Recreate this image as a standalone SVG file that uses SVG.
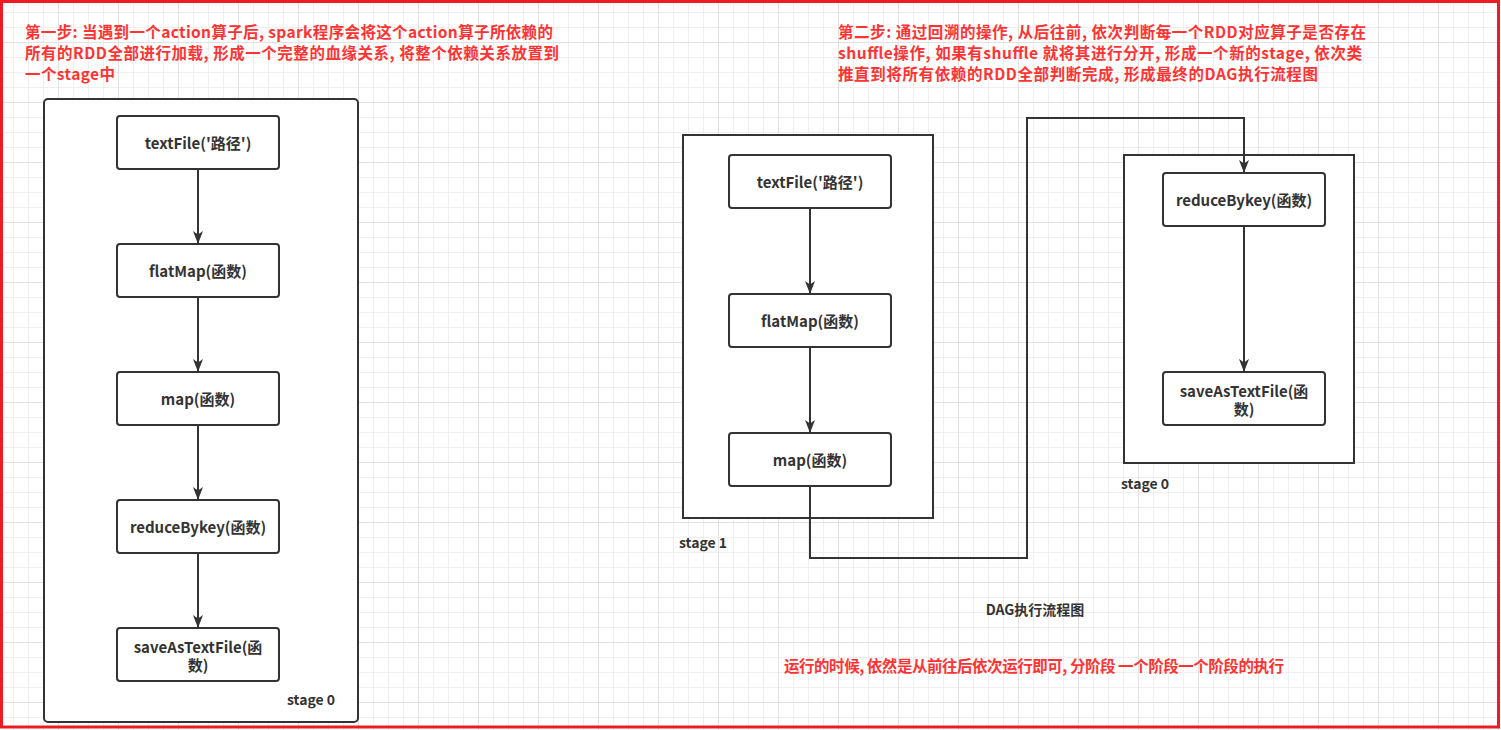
<svg xmlns="http://www.w3.org/2000/svg" width="1501" height="730" viewBox="0 0 1501 730">
<defs>
<pattern id="grid" x="-2" y="42" width="60" height="60" patternUnits="userSpaceOnUse">
<rect width="60" height="60" fill="#ffffff"/>
<path d="M15.5 0V60M30.5 0V60M45.5 0V60M0 15.5H60M0 30.5H60M0 45.5H60" stroke="#efefef" stroke-width="1"/>
<path d="M0.5 0V60M0 0.5H60" stroke="#e2e2e2" stroke-width="1"/>
</pattern>
<marker id="arr" markerUnits="userSpaceOnUse" markerWidth="15" markerHeight="11" refX="13" refY="5" orient="auto">
<path d="M0,0 L13,5 L0,10 L3.5,5 Z" fill="#333333"/>
</marker>
<style>
.box{fill:#ffffff;stroke:#333333;stroke-width:2}
.node{fill:#ffffff;stroke:#333333;stroke-width:2}
.lbl{font-family:"Noto Sans CJK SC","Noto Sans",sans-serif;font-weight:bold;font-size:14px;fill:#333333}
.n{font-size:15px}
.c{text-anchor:middle;dominant-baseline:central}
.red{font-family:"Noto Sans CJK SC","Noto Sans",sans-serif;font-weight:bold;font-size:15.5px;fill:#ff3333;dominant-baseline:central}
.edge{fill:none;stroke:#333333;stroke-width:2}
</style>
</defs>
<rect x="0" y="0" width="1501" height="730" fill="url(#grid)"/>
<rect x="1.5" y="1.5" width="1497" height="725.5" fill="none" stroke="#ed1c24" stroke-width="3"/>

<g id="note-step1">
<text class="red" x="25" y="31" textLength="528" lengthAdjust="spacing">第一步: 当遇到一个action算子后, spark程序会将这个action算子所依赖的</text>
<text class="red" x="25" y="52" textLength="534" lengthAdjust="spacing">所有的RDD全部进行加载, 形成一个完整的血缘关系, 将整个依赖关系放置到</text>
<text class="red" x="25" y="73" textLength="90" lengthAdjust="spacing">一个stage中</text>
</g>
<g id="note-step2">
<text class="red" x="838" y="31" textLength="528" lengthAdjust="spacing">第二步: 通过回溯的操作, 从后往前, 依次判断每一个RDD对应算子是否存在</text>
<text class="red" x="838" y="52" textLength="524" lengthAdjust="spacing">shuffle操作, 如果有shuffle 就将其进行分开, 形成一个新的stage, 依次类</text>
<text class="red" x="838" y="73" textLength="480" lengthAdjust="spacing">推直到将所有依赖的RDD全部判断完成, 形成最终的DAG执行流程图</text>
</g>

<g id="stage0-left">
<rect class="box" x="44" y="99" width="314" height="623" rx="4"/>
<text class="lbl" x="287" y="699" dominant-baseline="central">stage 0</text>
</g>
<g id="stage1">
<rect class="box" x="683" y="135" width="250" height="383"/>
<text class="lbl" x="679" y="542" dominant-baseline="central">stage 1</text>
</g>
<g id="stage0-right">
<rect class="box" x="1124" y="155" width="230" height="308"/>
<text class="lbl" x="1121" y="483" dominant-baseline="central">stage 0</text>
</g>

<g id="L-textFile"><rect class="node" x="117" y="116" width="162" height="53" rx="3"/><text class="lbl n c" x="198" y="142.5">textFile('路径')</text></g>
<g id="L-flatMap"><rect class="node" x="117" y="244" width="162" height="53" rx="3"/><text class="lbl n c" x="198" y="270.5">flatMap(函数)</text></g>
<g id="L-map"><rect class="node" x="117" y="372" width="162" height="53" rx="3"/><text class="lbl n c" x="198" y="398.5">map(函数)</text></g>
<g id="L-reduceBykey"><rect class="node" x="117" y="500" width="162" height="53" rx="3"/><text class="lbl n c" x="198" y="526.5">reduceBykey(函数)</text></g>
<g id="L-saveAsTextFile"><rect class="node" x="117" y="628" width="162" height="53" rx="3"/><text class="lbl n c" x="198" y="646">saveAsTextFile(函</text><text class="lbl n c" x="198" y="664">数)</text></g>

<g id="S1-textFile"><rect class="node" x="729" y="155" width="162" height="53" rx="3"/><text class="lbl n c" x="810" y="181.5">textFile('路径')</text></g>
<g id="S1-flatMap"><rect class="node" x="729" y="294" width="162" height="53" rx="3"/><text class="lbl n c" x="810" y="320.5">flatMap(函数)</text></g>
<g id="S1-map"><rect class="node" x="729" y="433" width="162" height="53" rx="3"/><text class="lbl n c" x="810" y="459.5">map(函数)</text></g>

<g id="S0-reduceBykey"><rect class="node" x="1163" y="173" width="162" height="53" rx="3"/><text class="lbl n c" x="1244" y="199.5">reduceBykey(函数)</text></g>
<g id="S0-saveAsTextFile"><rect class="node" x="1163" y="372" width="162" height="53" rx="3"/><text class="lbl n c" x="1244" y="390">saveAsTextFile(函</text><text class="lbl n c" x="1244" y="408">数)</text></g>

<g id="connectors">
<path class="edge" d="M198 169V244" marker-end="url(#arr)"/>
<path class="edge" d="M198 297V372" marker-end="url(#arr)"/>
<path class="edge" d="M198 425V500" marker-end="url(#arr)"/>
<path class="edge" d="M198 553V628" marker-end="url(#arr)"/>
<path class="edge" d="M810 208V294" marker-end="url(#arr)"/>
<path class="edge" d="M810 347V433" marker-end="url(#arr)"/>
<path class="edge" d="M810 486V558H1027V118H1244V173" marker-end="url(#arr)"/>
<path class="edge" d="M1244 226V372" marker-end="url(#arr)"/>
</g>

<g id="title">
<text class="lbl c" x="1035" y="609" font-size="15">DAG执行流程图</text>
</g>
<g id="note-run">
<text class="red" x="784" y="665" font-size="15" textLength="500" lengthAdjust="spacing">运行的时候, 依然是从前往后依次运行即可, 分阶段 一个阶段一个阶段的执行</text>
</g>
</svg>
